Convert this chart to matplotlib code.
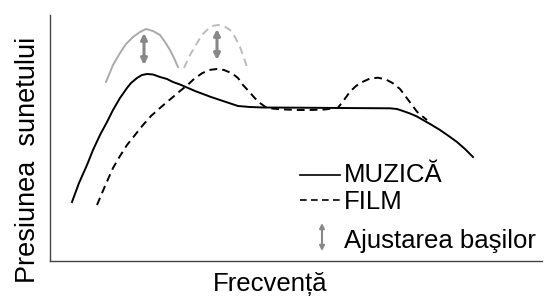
import matplotlib
matplotlib.use("Agg")
import matplotlib.pyplot as plt
from matplotlib.lines import Line2D
from matplotlib.patches import FancyArrowPatch

plt.rcParams['font.family'] = ['Liberation Sans', 'DejaVu Sans']

# frequency (arbitrary units) vs sound pressure (arbitrary units)
music_x = [22, 29, 37, 43, 50, 57, 63, 70, 77, 81, 87, 92, 97, 103, 110, 117, 123, 130,
           137, 145, 153, 161, 170, 179, 188, 200, 213, 250, 290, 340, 347, 353, 360,
           367, 373, 381, 390, 398, 407, 415, 423]
music_y = [59, 78, 96, 111, 126, 139, 151, 163, 173, 178, 183, 186, 187, 186.5, 184, 182,
           179, 176.5, 173.5, 170, 167, 164, 161, 158, 155, 154, 153.5, 153.3, 153, 152.7,
           152, 150, 147.5, 144.5, 141, 136.5, 131, 125.5, 119, 112, 104]

film_x = [47, 55, 63, 70, 77, 85, 93, 101, 110, 117, 123, 130, 137, 144, 152, 159, 167,
          174, 182, 188, 193, 199, 205, 210, 215, 222, 230, 248, 260, 275, 288, 294, 300,
          306, 313, 320, 328, 336, 343, 350, 357, 362, 367, 372, 377]
film_y = [56, 75, 93, 105, 116, 126, 136, 145, 153, 159, 164, 170, 175.5, 182, 187.7, 191,
          192, 191, 187.7, 183, 176, 169.5, 162.7, 158, 154.3, 152.5, 151.7, 151, 151,
          151.5, 153.3, 161, 169.3, 175, 179.3, 182.5, 183.3, 181.5, 177.7, 172, 162.7,
          156, 149.3, 145, 141]

# bass-boosted variants
music_bass_x = [56, 63, 70, 76, 83, 90, 96, 103, 110, 115, 120, 124, 128]
music_bass_y = [179, 196, 208, 217, 224, 229, 232, 230, 226, 219, 211, 203, 194]

film_bass_x = [134, 140, 147, 152, 157, 162, 168, 174, 180, 185, 190, 194, 198]
film_bass_y = [193, 206, 218, 226, 231, 235, 236, 235, 231, 224, 214, 203, 191]

# bass adjustment arrows: x, bottom, top
arrow_x = [94, 167]
arrow_lo = [196, 201]
arrow_hi = [228, 232]

labels = ["MUZICĂ", "FILM", "Ajustarea başilor"]

W, H = 545, 303
fig = plt.figure(figsize=(W / 100, H / 100), dpi=100)
ax = fig.add_axes([50 / W, 42 / H, 492 / W, 246 / H])
ax.set_xlim(0, 492)
ax.set_ylim(0, 246)

ax.plot(music_x, music_y, color='black', lw=1.4)
ax.plot(film_x, film_y, color='black', lw=1.4, dashes=(4, 2.6))
ax.plot(music_bass_x, music_bass_y, color='#aaaaaa', lw=1.4)
ax.plot(film_bass_x, film_bass_y, color='#bbbbbb', lw=1.4, dashes=(4, 2.6))

for x, lo, hi in zip(arrow_x, arrow_lo, arrow_hi):
    ax.annotate('', xy=(x, hi), xytext=(x, lo),
                arrowprops=dict(arrowstyle='<|-|>', color='#888888', lw=2.2,
                                mutation_scale=9, shrinkA=0, shrinkB=0))

for s in ['top', 'right']:
    ax.spines[s].set_visible(False)
for s in ['left', 'bottom']:
    ax.spines[s].set_color('#444444')
    ax.spines[s].set_linewidth(1.0)
ax.set_xticks([])
ax.set_yticks([])

# axis titles
fig.text(270 / W, 1 - 291.5 / H, "Frecvență", ha='center', va='baseline', fontsize=18.5)
fig.text(35 / W, 1 - 160 / H, "Presiunea  sunetului", rotation=90, rotation_mode='anchor',
         ha='center', va='baseline', fontsize=19.5)

# hand-made legend
def px(x, y):
    return x / W, 1 - y / H

fig.add_artist(Line2D(*zip(px(300, 175), px(340, 175)), color='black', lw=1.2))
fig.add_artist(Line2D(*zip(px(300, 200), px(340, 200)), color='black', lw=1.2, dashes=(4, 2.6)))
fig.add_artist(FancyArrowPatch(px(322, 251), px(322, 223), transform=fig.transFigure,
                               arrowstyle='<|-|>', color='#888888', lw=1.5,
                               mutation_scale=7, shrinkA=0, shrinkB=0))
for lab, yb in zip(labels, [181.5, 209, 248]):
    fig.text(*px(344, yb), lab, ha='left', va='baseline', fontsize=18.5)

fig.savefig("out.png", dpi=100)
